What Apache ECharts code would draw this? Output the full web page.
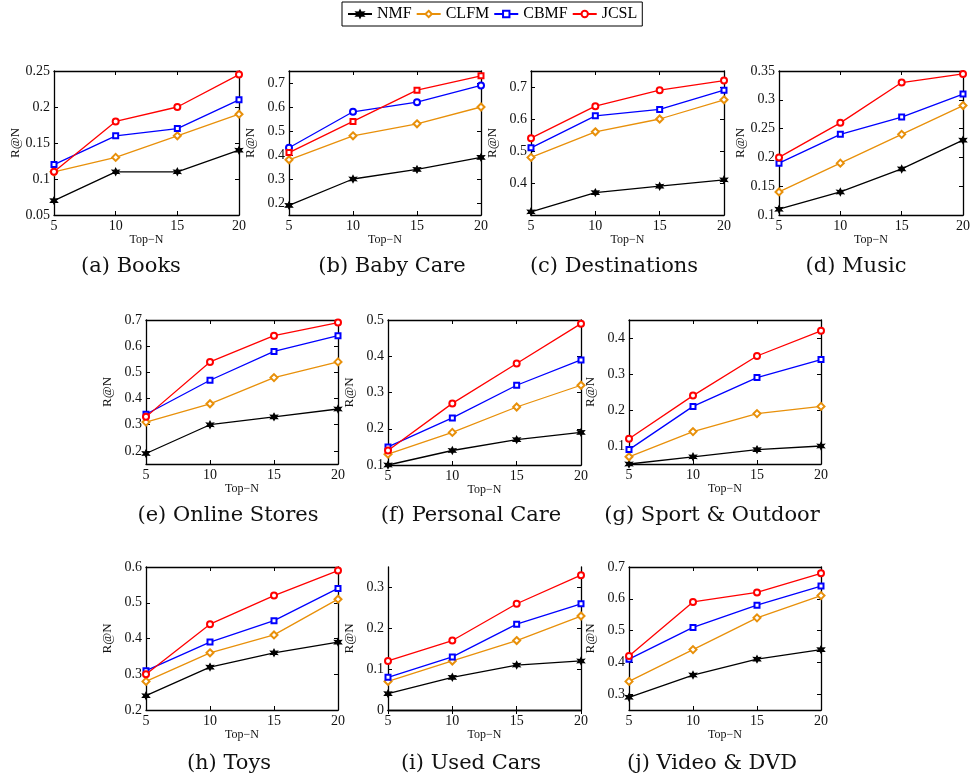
<!DOCTYPE html>
<html>
<head>
<meta charset="utf-8">
<script src="https://cdn.jsdelivr.net/npm/echarts@6/dist/echarts.min.js"></script>
<style>
  html, body { margin: 0; background: #fff; }
  #main { width: 973px; height: 781px; }
</style>
</head>
<body>
<div id="main"></div>
<script>
// x values (Top-N)
var topN = [5, 10, 15, 20];
var methods = ['NMF', 'CLFM', 'CBMF', 'JCSL'];
var captions = ['(a) Books', '(b) Baby Care', '(c) Destinations', '(d) Music',
  '(e) Online Stores', '(f) Personal Care', '(g) Sport & Outdoor',
  '(h) Toys', '(i) Used Cars', '(j) Video & DVD'];

// R@N per panel, one row per dataset
var nmf = [
  [0.07, 0.11, 0.11, 0.14],
  [0.19, 0.30, 0.34, 0.39],
  [0.31, 0.37, 0.39, 0.41],
  [0.11, 0.14, 0.18, 0.23],
  [0.19, 0.30, 0.33, 0.36],
  [0.10, 0.14, 0.17, 0.19],
  [0.05, 0.07, 0.09, 0.10],
  [0.24, 0.32, 0.36, 0.39],
  [0.04, 0.08, 0.11, 0.12],
  [0.29, 0.36, 0.41, 0.44]
];
var clfm = [
  [0.11, 0.13, 0.16, 0.19],
  [0.38, 0.48, 0.53, 0.60],
  [0.48, 0.56, 0.60, 0.66],
  [0.14, 0.19, 0.24, 0.29],
  [0.31, 0.38, 0.48, 0.54],
  [0.13, 0.19, 0.26, 0.32],
  [0.07, 0.14, 0.19, 0.21],
  [0.28, 0.36, 0.41, 0.51],
  [0.07, 0.12, 0.17, 0.23],
  [0.34, 0.44, 0.54, 0.61]
];
var cbmf = [
  [0.12, 0.16, 0.17, 0.21],
  [0.43, 0.58, 0.62, 0.69],
  [0.51, 0.61, 0.63, 0.69],
  [0.19, 0.24, 0.27, 0.31],
  [0.34, 0.47, 0.58, 0.64],
  [0.15, 0.23, 0.32, 0.39],
  [0.09, 0.21, 0.29, 0.34],
  [0.31, 0.39, 0.45, 0.54],
  [0.08, 0.13, 0.21, 0.26],
  [0.41, 0.51, 0.58, 0.64]
];
var jcsl = [
  [0.11, 0.18, 0.20, 0.245],
  [0.41, 0.54, 0.67, 0.73],
  [0.54, 0.64, 0.69, 0.72],
  [0.20, 0.26, 0.33, 0.345],
  [0.33, 0.54, 0.64, 0.69],
  [0.14, 0.27, 0.38, 0.49],
  [0.12, 0.24, 0.35, 0.42],
  [0.30, 0.44, 0.52, 0.59],
  [0.12, 0.17, 0.26, 0.33],
  [0.42, 0.59, 0.62, 0.68]
];

// y axis ranges and tick labels
var yMin = [0.05, 0.15, 0.3, 0.1, 0.15, 0.1, 0.05, 0.2, 0, 0.25];
var yMax = [0.25, 0.75, 0.75, 0.35, 0.7, 0.5, 0.45, 0.6, 0.35, 0.7];
var yTicks = [
  [0.05, 0.1, 0.15, 0.2, 0.25],
  [0.2, 0.3, 0.4, 0.5, 0.6, 0.7],
  [0.4, 0.5, 0.6, 0.7],
  [0.1, 0.15, 0.2, 0.25, 0.3, 0.35],
  [0.2, 0.3, 0.4, 0.5, 0.6, 0.7],
  [0.1, 0.2, 0.3, 0.4, 0.5],
  [0.1, 0.2, 0.3, 0.4],
  [0.2, 0.3, 0.4, 0.5, 0.6],
  [0, 0.1, 0.2, 0.3],
  [0.3, 0.4, 0.5, 0.6, 0.7]
];

// layout: plot boxes [left, top, width, height] and caption centres
var boxes = [
  [54, 71, 185, 144], [289, 71, 192, 144], [531, 71, 193, 144], [779, 71, 186, 144],
  [146, 320, 192, 144], [388, 320, 193, 145], [629, 320, 192, 144],
  [146, 567, 192, 143], [388, 567, 193, 143], [629, 567, 192, 143]
];
var capPos = [
  [131, 267], [392, 267], [614, 267], [856, 267],
  [228, 516], [471, 516], [712, 516],
  [229, 764], [471, 764], [712, 764]
];

var colors = ['#000000', '#e8900a', '#0000ff', '#ff0000'];
var star = 'path://M10,0L12.5,5.67L18.66,5L15,10L18.66,15L12.5,14.33L10,20L7.5,14.33L1.34,15L5,10L1.34,5L7.5,5.67Z';
var symbols = [star, 'emptyDiamond', 'emptyRect', 'emptyCircle'];
var symSizes = [7, 7, 5, 6];
var swapPanels = [1]; // in (b) the blue/red markers are swapped

var serif = 'Liberation Serif';
var myChart = echarts.init(document.getElementById('main'));

var grids = [], xAxes = [], yAxes = [], series = [], graphics = [];
var allData = [nmf, clfm, cbmf, jcsl];
var fmt = function (v) { return String(+Number(v).toFixed(2)); };
var axisLine = { show: true, lineStyle: { color: '#000', width: 1.3 } };

boxes.forEach(function (b, i) {
  grids.push({ left: b[0], top: b[1], width: b[2], height: b[3] });
  xAxes.push({
    gridIndex: i, type: 'value', min: 5, max: 20, interval: 5, position: 'bottom',
    name: 'Top\u2212N', nameLocation: 'middle', nameGap: 16,
    nameTextStyle: { fontFamily: serif, fontSize: 12, color: '#111' },
    axisLine: axisLine, axisTick: { inside: true, length: 4, lineStyle: { color: '#000' } },
    axisLabel: { fontFamily: serif, fontSize: 14, color: '#111', margin: 4 },
    splitLine: { show: false }
  });
  xAxes.push({
    gridIndex: i, type: 'value', min: 5, max: 20, interval: 5, position: 'top',
    axisLine: axisLine, axisTick: { inside: true, length: 4, lineStyle: { color: '#000' } },
    axisLabel: { show: false }, splitLine: { show: false }
  });
  yAxes.push({
    gridIndex: i, type: 'value', min: yMin[i], max: yMax[i], position: 'left',
    name: 'R@N', nameLocation: 'middle', nameGap: 32,
    nameTextStyle: { fontFamily: serif, fontSize: 13, color: '#111' },
    axisLine: axisLine,
    axisTick: { inside: true, length: 4, customValues: yTicks[i], lineStyle: { color: '#000' } },
    axisLabel: { fontFamily: serif, fontSize: 14, color: '#111', margin: 4,
      customValues: yTicks[i], formatter: fmt },
    splitLine: { show: false }
  });
  yAxes.push({
    gridIndex: i, type: 'value', min: yMin[i], max: yMax[i], position: 'right',
    axisLine: axisLine,
    axisTick: { inside: true, length: 4, customValues: yTicks[i], lineStyle: { color: '#000' } },
    axisLabel: { show: false }, splitLine: { show: false }
  });

  methods.forEach(function (m, k) {
    var sym = symbols[k];
    if (swapPanels.indexOf(i) >= 0 && k >= 2) sym = symbols[5 - k];
    series.push({
      type: 'line', name: m,
      xAxisIndex: 2 * i, yAxisIndex: 2 * i,
      data: topN.map(function (x, j) { return [x, allData[k][i][j]]; }),
      symbol: sym, symbolSize: symSizes[symbols.indexOf(sym)],
      lineStyle: { color: colors[k], width: 1.3 },
      itemStyle: { color: colors[k], borderColor: colors[k], borderWidth: 1.1 },
      z: 2 + k
    });
  });

  graphics.push({
    type: 'text', x: capPos[i][0], y: capPos[i][1],
    style: { text: captions[i], font: '21px "DejaVu Serif"', fill: '#111',
      textAlign: 'center', textVerticalAlign: 'middle' }
  });
});

myChart.setOption({
  animation: false,
  legend: {
    data: methods, left: 342, top: 2,
    padding: [4, 5, 4, 5], itemGap: 4, itemWidth: 24, itemHeight: 8,
    borderColor: '#000', borderWidth: 1,
    textStyle: { fontFamily: serif, fontSize: 16, color: '#000' }
  },
  grid: grids,
  xAxis: xAxes,
  yAxis: yAxes,
  series: series,
  graphic: graphics
});
</script>
</body>
</html>
